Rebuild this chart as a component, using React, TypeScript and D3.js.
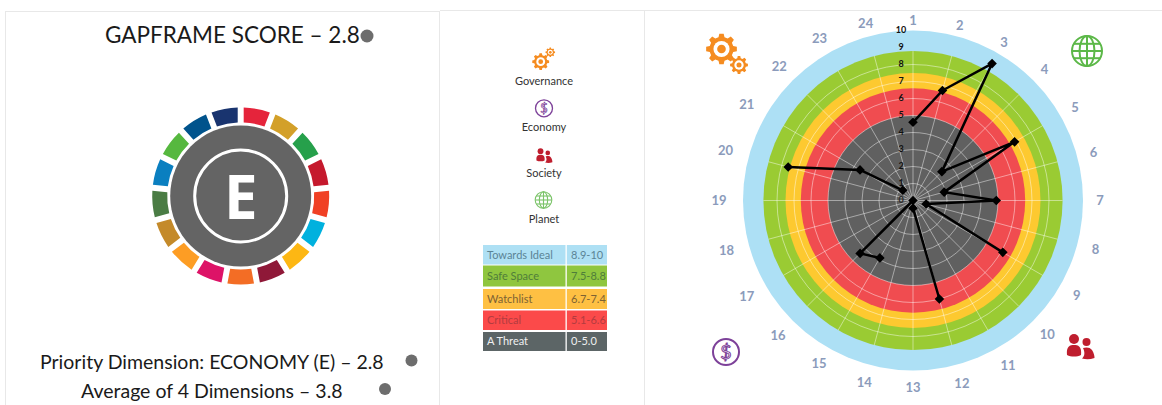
import React from "react";
import * as d3 from "d3";

const WIDTH = 1162;
const HEIGHT = 405;

// Radar data: value per numbered spoke (null = no value recorded)
const spokes = d3.range(1, 25);
const scores: (number | null)[] = [4.6, 6.7, 9.3, 2.4, 6.9, 1.9, 4.9, 0.8, 6.1, null, null, 6.0, 0.45, null, 3.9, 4.4, 0, null, null, 7.6, 3.6, 0.85, null, null];
const labelRadii = [180, 181, 182, 186, 187, 187, 187, 189, 189, 190, 190, 189, 187, 188, 188, 191, 192, 193, 194, 194, 192, 189, 187, 183];
const tickValues = d3.range(0, 11);

// Bands of the radar
const bandEdges = [10, 8.8, 7.5, 6.6, 5];
const bandColors = ["#ade0f5", "#9acb33", "#fdc930", "#f04c50", "#606060"];

// Legend table
const tableNames = ["Towards Ideal", "Safe Space", "Watchlist", "Critical", "A Threat"];
const tableRanges = ["8.9-10", "7.5-8.8", "6.7-7.4", "5.1-6.6", "0-5.0"];
const tableFills = ["#aee0f4", "#8fc63f", "#fec043", "#fb4a4a", "#5c6566"];
const tableInk = ["#5b8496", "#4f7d3a", "#7d6233", "#b33c40", "#f0f0f0"];
const tableRowTops = [245, 265.5, 289, 310.5, 332];
const tableRowHeights = [19.5, 21, 20, 19.5, 19];

const dimensions = ["Governance", "Economy", "Society", "Planet"];
const dimensionLabelY = [81, 127, 173, 219];

const sdgColors = ["#e5243b", "#d3a029", "#26a04b", "#c5192d", "#f04024", "#00b1de", "#fdb713", "#8f1838", "#f36d25", "#dd1367", "#fd9d24", "#c48a2a", "#4a7c44", "#0a7fc0", "#56b83f", "#00538c", "#19346f"];

const ORANGE = "#f58c20";
const PURPLE = "#7d4199";
const RED = "#bf1e2e";
const GREEN = "#5cb848";
const SANS = "Lato, 'Open Sans', sans-serif";
const DOT = "#6d6d6d";

function gearPath(r: number, teeth: number) {
  const inner = r * 0.78;
  const pts: [number, number][] = [];
  const step = (Math.PI * 2) / teeth;
  for (let i = 0; i < teeth; i++) {
    const a = i * step;
    pts.push([a - step * 0.32, inner], [a - step * 0.18, r], [a + step * 0.18, r], [a + step * 0.32, inner]);
  }
  return d3.lineRadial().curve(d3.curveLinearClosed)(pts) as string;
}

function Gear({ x, y, r, teeth }: { x: number; y: number; r: number; teeth: number }) {
  return (
    <g transform={`translate(${x},${y})`}>
      <path d={gearPath(r, teeth)} fill={ORANGE} />
      <circle r={r * 0.52} fill="#fff" />
      <circle r={r * 0.28} fill={ORANGE} />
    </g>
  );
}

function Globe({ x, y, r, color }: { x: number; y: number; r: number; color: string }) {
  const sw = r / 7.5;
  return (
    <g transform={`translate(${x},${y})`} fill="none" stroke={color} strokeWidth={sw}>
      <circle r={r} />
      <ellipse rx={r * 0.5} ry={r} />
      <line x1={0} x2={0} y1={-r} y2={r} />
      <line x1={-r} x2={r} y1={0} y2={0} />
      <line x1={-r * 0.88} x2={r * 0.88} y1={-r * 0.48} y2={-r * 0.48} />
      <line x1={-r * 0.88} x2={r * 0.88} y1={r * 0.48} y2={r * 0.48} />
    </g>
  );
}

function Dollar({ x, y, r }: { x: number; y: number; r: number }) {
  return (
    <g transform={`translate(${x},${y})`}>
      <circle r={r} fill="none" stroke={PURPLE} strokeWidth={r / 6.5} />
      <text textAnchor="middle" dy="0.36em" fontSize={r * 1.5} fontFamily={SANS} fill="#fff" stroke={PURPLE} strokeWidth={r / 13}>$</text>
    </g>
  );
}

function People({ x, y, s }: { x: number; y: number; s: number }) {
  return (
    <g transform={`translate(${x},${y}) scale(${s})`} fill={RED}>
      <circle cx={-6} cy={-10} r={5} />
      <path d="M-13,6 C-14,-3 -10,-4 -6,-4 C-2,-4 2,-3 1,6 C-3,8 -9,8 -13,6Z" />
      <circle cx={6.5} cy={-7} r={4} />
      <path d="M3,-1 C6,-2 10,-2 12,1 C14,4 14.5,7 14.5,9 C10,10.5 6,10.5 2,9.5 C5,7 5,3 3,-1Z" />
    </g>
  );
}

function App() {
  const cx = 913;
  const cy = 200.5;
  const rScale = d3.scaleLinear().domain([0, 10]).range([0, 170]);
  const angle = d3.scaleLinear().domain([1, 25]).range([0, Math.PI * 2]);
  const polar = (spoke: number, radius: number): [number, number] => [
    Math.sin(angle(spoke)) * radius,
    -Math.cos(angle(spoke)) * radius,
  ];
  const series = spokes.map((s, i) => ({ spoke: s, value: scores[i] }));
  const radarLine = d3
    .lineRadial<{ spoke: number; value: number | null }>()
    .defined((d) => d.value !== null)
    .angle((d) => angle(d.spoke))
    .radius((d) => rScale(d.value ?? 0));
  const square = d3.symbol().type(d3.symbolSquare).size(46)() as string;

  const sdgPie = d3.pie<string>().value(1).sort(null).padAngle(0.052);
  const sdgArc = d3.arc<d3.PieArcDatum<string>>().innerRadius(73.5).outerRadius(88.5);

  return (
    <svg width={WIDTH} height={HEIGHT} viewBox={`0 0 ${WIDTH} ${HEIGHT}`} style={{ position: "absolute", left: 0, top: 0, background: "#fff" }}>
      {/* panel frame */}
      <g stroke="#e8e8e8" strokeWidth={1}>
        <line x1={5} x2={440} y1={11.5} y2={11.5} />
        <line x1={440} x2={WIDTH} y1={10.5} y2={10.5} />
        <line x1={5.5} x2={5.5} y1={11} y2={HEIGHT} />
        <line x1={439.5} x2={439.5} y1={11} y2={HEIGHT} />
        <line x1={644.5} x2={644.5} y1={10} y2={HEIGHT} />
      </g>

      {/* left panel */}
      <text x={105} y={43} fontFamily={SANS} fontSize={22.5} fill="#1a1a1a">GAPFRAME SCORE – 2.8</text>
      <circle cx={367} cy={36} r={6.5} fill={DOT} />
      <g transform="translate(240.7,196)">
        {sdgPie(sdgColors).map((d, i) => (
          <path key={i} d={sdgArc(d) as string} fill={d.data} />
        ))}
        <circle r={70.5} fill="#646464" />
        <circle r={46} fill="none" stroke="#fff" strokeWidth={3} />
        <text y={22.5} textAnchor="middle" fontFamily="'Open Sans', sans-serif" fontWeight={700} fontSize={60} fill="#fff">E</text>
      </g>
      <text x={40} y={369} fontFamily={SANS} fontSize={19.5} fill="#1a1a1a">Priority Dimension: ECONOMY (E) – 2.8</text>
      <circle cx={411.5} cy={360.5} r={6} fill={DOT} />
      <text x={81} y={398} fontFamily={SANS} fontSize={19.5} fill="#1a1a1a">Average of 4 Dimensions – 3.8</text>
      <circle cx={385} cy={389} r={6} fill={DOT} />

      {/* middle legend */}
      <Gear x={540.7} y={61.7} r={8.5} teeth={8} />
      <Gear x={550.3} y={52.3} r={4.8} teeth={8} />
      <Dollar x={544} y={108.3} r={8.5} />
      <People x={544} y={157} s={0.58} />
      <Globe x={543.5} y={200} r={8.3} color="#7cc46a" />
      {dimensions.map((d, i) => (
        <text key={d} x={544} y={dimensionLabelY[i]} dy="0.35em" textAnchor="middle" fontFamily={SANS} fontSize={11} fill="#333">{d}</text>
      ))}
      {tableNames.map((name, i) => (
        <g key={name}>
          <rect x={483} y={tableRowTops[i]} width={82.5} height={tableRowHeights[i]} fill={tableFills[i]} />
          <rect x={566.8} y={tableRowTops[i]} width={40.2} height={tableRowHeights[i]} fill={tableFills[i]} />
          <text x={487} y={tableRowTops[i] + tableRowHeights[i] / 2} dy="0.35em" fontFamily={SANS} fontSize={11} fill={tableInk[i]}>{name}</text>
          <text x={571} y={tableRowTops[i] + tableRowHeights[i] / 2} dy="0.35em" fontFamily={SANS} fontSize={11} fill={tableInk[i]}>{tableRanges[i]}</text>
        </g>
      ))}

      {/* radar */}
      <g transform={`translate(${cx},${cy})`}>
        {bandEdges.map((edge, i) => (
          <circle key={edge} r={rScale(edge)} fill={bandColors[i]} />
        ))}
        <g fill="none" stroke="#fff" strokeOpacity={0.5} strokeWidth={0.9}>
          {tickValues.filter((t) => t > 0 && t <= 8).map((t) => (
            <circle key={t} r={rScale(t)} />
          ))}
          {spokes.map((s) => {
            const [x, y] = polar(s, rScale(8.8));
            return <line key={s} x1={0} y1={0} x2={x} y2={y} />;
          })}
        </g>
        {tickValues.map((t) => (
          <text key={t} x={-12} y={-rScale(t) - 1} dy="0.35em" textAnchor="middle" fontFamily={SANS} fontWeight={700} fontSize={9} fill={t === 0 ? "#2a2a2a" : "#111"}>{t}</text>
        ))}
        <path d={radarLine(series) as string} fill="none" stroke="#000" strokeWidth={2.5} strokeLinejoin="round" />
        {series.filter((d) => d.value !== null).map((d) => {
          const [x, y] = polar(d.spoke, rScale(d.value as number));
          return <path key={d.spoke} d={square} transform={`translate(${x},${y}) rotate(45)`} fill="#000" />;
        })}
        {spokes.map((s, i) => {
          const [x, y] = polar(s, labelRadii[i]);
          return (
            <text key={s} x={x} y={y} dy="0.35em" textAnchor="middle" fontFamily={SANS} fontWeight={700} fontSize={13} fill="#8b9bbb">{s}</text>
          );
        })}
      </g>

      {/* dimension icons around the radar */}
      <Gear x={721.5} y={49} r={15.5} teeth={8} />
      <Gear x={739} y={65} r={9} teeth={8} />
      <Globe x={1087} y={51} r={15} color={GREEN} />
      <People x={1080} y={349} s={1} />
      <Dollar x={726} y={352} r={13} />
    </svg>
  );
}

export default App;
